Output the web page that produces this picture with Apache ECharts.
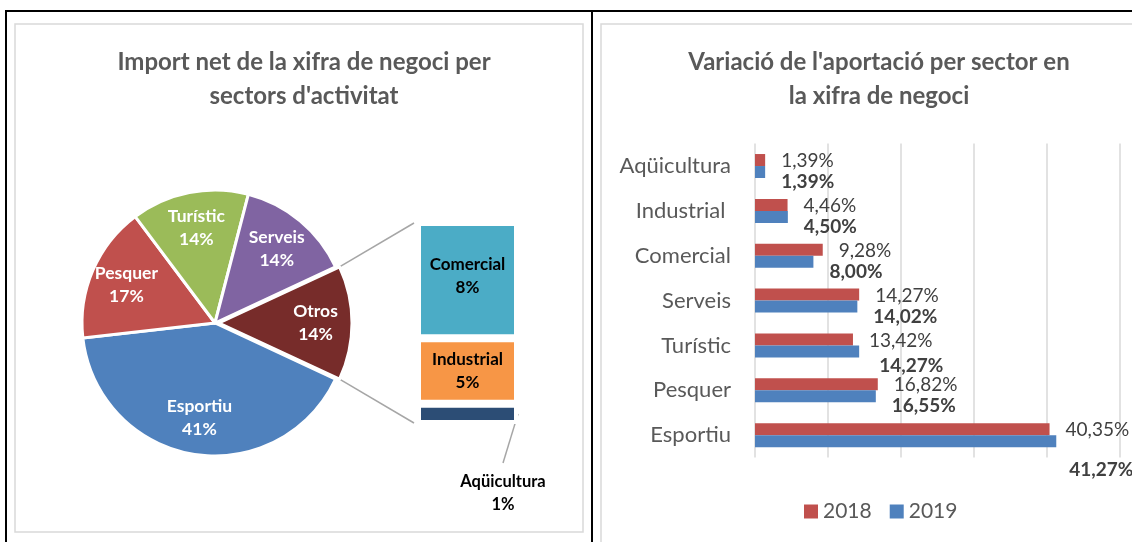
<!DOCTYPE html>
<html><head><meta charset="utf-8">
<script src="https://cdn.jsdelivr.net/npm/echarts@6/dist/echarts.min.js"></script>
<style>html,body{margin:0;padding:0;background:#fff}#c{width:1132px;height:542px}</style>
</head><body><div id="c"></div>
<script>
// ---- data ----
const pieNames = ['Esportiu', 'Pesquer', 'Turístic', 'Serveis'];
const pieValues = [41.27, 16.55, 14.27, 14.02];
const otrosLabel = 'Otros';
const otrosNames = ['Comercial', 'Industrial', 'Aqüicultura'];
const otrosValues = [8.00, 4.50, 1.39];

const sectors = ['Esportiu', 'Pesquer', 'Turístic', 'Serveis', 'Comercial', 'Industrial ', 'Aqüicultura'];
const values2018 = [40.35, 16.82, 13.42, 14.27, 9.28, 4.46, 1.39];
const values2019 = [41.27, 16.55, 14.27, 14.02, 8.00, 4.50, 1.39];
const seriesNames = ['2018', '2019'];

const title1 = 'Import net de la xifra de negoci per\nsectors d\'activitat';
const title2 = 'Variació de l\'aportació per sector en\nla xifra de negoci';

// ---- layout / style ----
const FONT = 'Lato';
const pieColors = { 'Otros': '#772C2A', 'Esportiu': '#4F81BD', 'Pesquer': '#C0504D', 'Turístic': '#9BBB59', 'Serveis': '#8064A2' };
const otrosColors = { 'Comercial': '#4BACC6', 'Industrial': '#F79646', 'Aqüicultura': '#2C4D75' };
const barColors = ['#C0504D', '#4F81BD'];
const PIE_C = [215, 323], PIE_R = 133, EXPLODE = 4;
const SUB = { left: 417, top: 222, width: 101, height: 202 };
const AQ_LABEL = [503, 493];
const label2019Shift = { 'Esportiu': [-3, 29], 'Turístic': [4, 14] };

const otrosTotal = otrosValues.reduce((a, b) => a + b, 0);
const pieData = [{ name: otrosLabel, value: +otrosTotal.toFixed(2), selected: true }]
  .concat(pieNames.map((n, i) => ({ name: n, value: pieValues[i] })));
const startAngle = otrosTotal / 100 * 360 / 2;
const fmtPct = v => v.toFixed(2).replace('.', ',') + '%';

const chart = echarts.init(document.getElementById('c'));

const series = [];
series.push({
  type: 'pie', center: PIE_C, radius: [0, PIE_R], startAngle: startAngle, clockwise: true,
  selectedMode: 'single', selectedOffset: EXPLODE, silent: true,
  data: pieData.map(d => Object.assign({}, d, { itemStyle: { color: pieColors[d.name] } })),
  itemStyle: { borderColor: '#fff', borderWidth: 3 },
  label: { show: false }, labelLine: { show: false }, animation: false
});
series.push({
  type: 'pie', center: PIE_C, radius: [54, PIE_R], startAngle: startAngle, clockwise: true,
  selectedMode: 'single', selectedOffset: EXPLODE, silent: true,
  data: pieData.map(d => Object.assign({}, d)),
  itemStyle: { color: 'rgba(0,0,0,0)', borderWidth: 0 },
  label: {
    show: true, position: 'inside', color: '#fff', fontFamily: FONT, fontWeight: 'bold', fontSize: 17.5, lineHeight: 23,
    formatter: p => p.name + '\n' + Math.round(p.percent) + '%'
  },
  labelLine: { show: false }, animation: false
});
// secondary stacked bar (bottom to top: Aqüicultura, Industrial, Comercial)
for (let i = otrosNames.length - 1; i >= 0; i--) {
  const name = otrosNames[i];
  const s = {
    type: 'bar', name: name, xAxisIndex: 0, yAxisIndex: 0, stack: 'otros', barWidth: '100%',
    data: [otrosValues[i]],
    itemStyle: { color: otrosColors[name], borderColor: '#fff', borderWidth: 4 },
    label: {
      show: true, position: 'inside', color: '#000', fontFamily: FONT, fontWeight: 'bold', fontSize: 17, lineHeight: 23,
      formatter: p => p.seriesName + '\n' + Math.round(p.value) + '%'
    },
    silent: true, animation: false
  };
  if (name === 'Comercial') s.label.offset = [0, -4];
  if (name === 'Aqüicultura') {
    s.label.fontSize = 16.5;
    s.labelLayout = { x: AQ_LABEL[0], y: AQ_LABEL[1], align: 'center', verticalAlign: 'middle' };
  }
  series.push(s);
}
// right chart bars
seriesNames.forEach((sn, k) => {
  const vals = k === 0 ? values2018 : values2019;
  series.push({
    type: 'bar', name: sn, xAxisIndex: 1, yAxisIndex: 1, barWidth: 12, barGap: '0%',
    itemStyle: { color: barColors[k] },
    data: vals.map((v, i) => {
      const item = { value: v };
      if (k === 1 && label2019Shift[sectors[i]]) item.label = { offset: label2019Shift[sectors[i]] };
      return item;
    }),
    label: {
      show: true, position: 'right', distance: 16, color: '#404040', fontFamily: FONT, fontSize: 19,
      fontWeight: k === 1 ? 'bold' : 'normal', offset: k === 1 ? [0, 10] : [0, 1],
      formatter: p => fmtPct(p.value)
    },
    silent: true, animation: false
  });
});

// connector lines between pie and secondary bar
const a = startAngle * Math.PI / 180;
const px = PIE_C[0] + PIE_R * Math.cos(a) + EXPLODE;
const pyTop = PIE_C[1] - PIE_R * Math.sin(a);
const pyBot = PIE_C[1] + PIE_R * Math.sin(a);
// leader from Aqüicultura segment to its label
const aqY = SUB.top + SUB.height * (1 - (otrosValues[2] / 2) / otrosTotal);

const grey = { stroke: '#A6A6A6', lineWidth: 1.5 };
const frame = [
  { type: 'rect', shape: { x: 15, y: 24, width: 568, height: 508 }, style: { fill: 'none', stroke: '#D9D9D9', lineWidth: 1.5 }, silent: true },
  { type: 'polyline', shape: { points: [[601, 542], [601, 24], [1132, 24]] }, style: { fill: 'none', stroke: '#D9D9D9', lineWidth: 1.5 }, silent: true },
  { type: 'line', shape: { x1: 5, y1: 11, x2: 1132, y2: 11 }, style: { stroke: '#000', lineWidth: 2 }, silent: true },
  { type: 'line', shape: { x1: 6, y1: 10, x2: 6, y2: 542 }, style: { stroke: '#000', lineWidth: 2 }, silent: true },
  { type: 'line', shape: { x1: 592, y1: 10, x2: 592, y2: 542 }, style: { stroke: '#000', lineWidth: 2 }, silent: true },
  { type: 'line', shape: { x1: px, y1: pyTop, x2: SUB.left - 3, y2: SUB.top + 1 }, style: grey, silent: true },
  { type: 'line', shape: { x1: px, y1: pyBot, x2: SUB.left - 3, y2: SUB.top + SUB.height - 1 }, style: grey, silent: true },
  { type: 'line', shape: { x1: SUB.left + SUB.width, y1: aqY, x2: AQ_LABEL[0], y2: AQ_LABEL[1] - 30 }, style: grey, silent: true }
];

chart.setOption({
  animation: false,
  backgroundColor: '#fff',
  title: [
    { text: title1, left: 299, top: 40, textAlign: 'center', textStyle: { color: '#595959', fontFamily: FONT, fontWeight: 'bold', fontSize: 24, lineHeight: 34 } },
    { text: title2, left: 874, top: 40, textAlign: 'center', textStyle: { color: '#595959', fontFamily: FONT, fontWeight: 'bold', fontSize: 24, lineHeight: 34 } }
  ],
  legend: {
    data: seriesNames, left: 799, top: 496, icon: 'rect', itemWidth: 14, itemHeight: 14, itemGap: 18,
    textStyle: { color: '#595959', fontFamily: FONT, fontSize: 21 }, selectedMode: false
  },
  grid: [
    { left: SUB.left, top: SUB.top, width: SUB.width, height: SUB.height },
    { left: 755, top: 143.6, width: 365, height: 314 }
  ],
  xAxis: [
    { type: 'category', gridIndex: 0, data: [''], show: false },
    { type: 'value', gridIndex: 1, min: 0, max: 50, interval: 10, axisLabel: { show: false }, axisLine: { show: false }, axisTick: { show: false },
      splitLine: { show: true, lineStyle: { color: '#D9D9D9', width: 1.5 } } }
  ],
  yAxis: [
    { type: 'value', gridIndex: 0, min: 0, max: otrosTotal, show: false },
    { type: 'category', gridIndex: 1, data: sectors, axisLine: { show: false }, axisTick: { show: false },
      axisLabel: { color: '#595959', fontFamily: FONT, fontSize: 22, margin: 24 } }
  ],
  series: series,
  graphic: frame
});
</script>
</body></html>
